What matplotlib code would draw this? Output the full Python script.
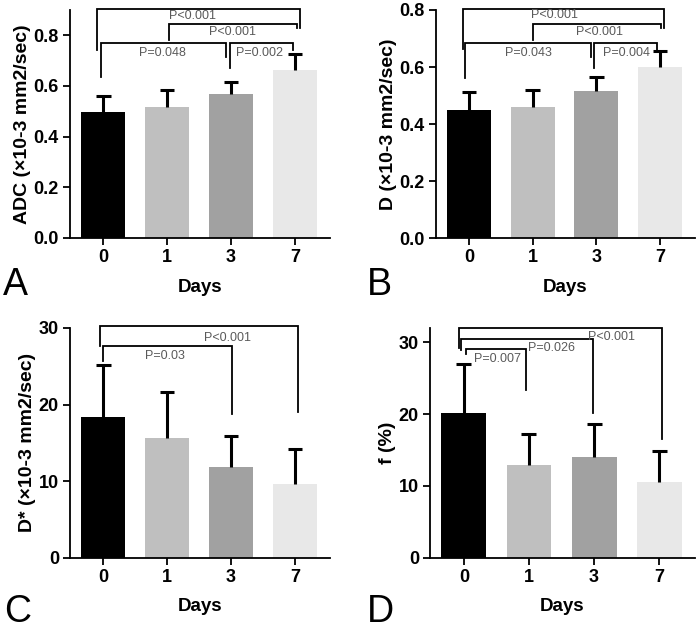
import matplotlib
matplotlib.use("Agg")
import matplotlib.pyplot as plt

plt.rcParams['font.family'] = ['Liberation Sans', 'DejaVu Sans']

days = ["0", "1", "3", "7"]
bar_colors = ["#000000", "#bfbfbf", "#a1a1a1", "#e8e8e8"]

# means and SD
adc_mean = [0.498, 0.518, 0.567, 0.662]
adc_sd = [0.064, 0.065, 0.050, 0.063]
d_mean = [0.450, 0.460, 0.517, 0.602]
d_sd = [0.061, 0.060, 0.047, 0.056]
dstar_mean = [18.4, 15.6, 11.9, 9.6]
dstar_sd = [6.8, 6.0, 4.0, 4.6]
f_mean = [20.2, 12.9, 14.0, 10.6]
f_sd = [6.8, 4.4, 4.6, 4.2]

# brackets: x left, x right, y bar, y left end, y right end, label, label x, label y
adc_brackets = [
    (-0.09, 3.08, 0.905, 0.742, 0.828, "P<0.001", 1.39, 0.877),
    (1.03, 3.03, 0.843, 0.781, 0.828, "P<0.001", 2.03, 0.813),
    (-0.03, 1.92, 0.768, 0.635, 0.714, "P=0.048", 0.93, 0.730),
    (1.98, 2.97, 0.768, 0.671, 0.742, "P=0.002", 2.45, 0.730),
]
d_brackets = [
    (-0.09, 3.06, 0.802, 0.663, 0.737, "P<0.001", 1.35, 0.781),
    (1.00, 3.02, 0.751, 0.696, 0.737, "P<0.001", 2.05, 0.723),
    (-0.07, 1.91, 0.684, 0.563, 0.637, "P=0.043", 0.93, 0.649),
    (1.96, 2.95, 0.684, 0.597, 0.661, "P=0.004", 2.47, 0.649),
]
dstar_brackets = [
    (-0.05, 3.05, 30.2, 27.6, 19.0, "P<0.001", 1.94, 28.7),
    (0.0, 2.01, 27.6, 25.7, 18.8, "P=0.03", 0.97, 26.3),
]
f_brackets = [
    (-0.07, 3.05, 32.0, 29.2, 16.5, "P<0.001", 2.26, 30.7),
    (-0.04, 1.98, 30.4, 29.0, 20.1, "P=0.026", 1.34, 29.2),
    (0.03, 0.96, 29.1, 28.4, 23.3, "P=0.007", 0.52, 27.7),
]

W, H = 697, 631
fig = plt.figure(figsize=(W / 100, H / 100), dpi=100)


def px_axes(left, right, top, bottom):
    return fig.add_axes([left / W, 1 - bottom / H, (right - left) / W, (bottom - top) / H])


panels = [
    (px_axes(70, 330, 10, 238), adc_mean, adc_sd, adc_brackets, "ADC (×10-3 mm2/sec)",
     (0, 0.9), [0.0, 0.2, 0.4, 0.6, 0.8], "{:.1f}", "A", (3, 295)),
    (px_axes(436, 695, 10, 238.3), d_mean, d_sd, d_brackets, "D (×10-3 mm2/sec)",
     (0, 0.8), [0.0, 0.2, 0.4, 0.6, 0.8], "{:.1f}", "B", (367, 295)),
    (px_axes(70, 330, 328, 557.7), dstar_mean, dstar_sd, dstar_brackets, "D* (×10-3 mm2/sec)",
     (0, 30), [0, 10, 20, 30], "{:.0f}", "C", (4, 622)),
    (px_axes(430, 695, 328, 557.7), f_mean, f_sd, f_brackets, "f (%)",
     (0, 32), [0, 10, 20, 30], "{:.0f}", "D", (367, 622)),
]

for ax, mean, sd, brackets, ylabel, ylim, yticks, fmt, letter, lpos in panels:
    x = list(range(len(days)))
    ax.bar(x, mean, width=0.69, color=bar_colors, zorder=2)
    tops = [m + s for m, s in zip(mean, sd)]
    # upper error bars only, no cap at the bar top
    ax.vlines(x, mean, tops, color="black", lw=2.2, zorder=3)
    ax.hlines(tops, [i - 0.115 for i in x], [i + 0.115 for i in x],
              color="black", lw=2.2, zorder=3)
    ax.set_xlim(-0.52, 3.55)
    ax.set_ylim(*ylim)
    ax.set_xticks(x)
    ax.set_xticklabels(days)
    ax.set_yticks(yticks)
    ax.set_yticklabels([fmt.format(v) for v in yticks])
    for lab in ax.get_xticklabels() + ax.get_yticklabels():
        lab.set_fontweight("bold")
        lab.set_fontsize(13)
    ax.tick_params(width=1.3, length=5, pad=3)
    ax.spines["top"].set_visible(False)
    ax.spines["right"].set_visible(False)
    for s in ("left", "bottom"):
        ax.spines[s].set_linewidth(1.3)
    ax.set_xlabel("Days", fontsize=13.5, fontweight="bold", labelpad=9)
    ax.set_ylabel(ylabel, fontsize=14, fontweight="bold", labelpad=2)

    for x1, x2, yb, yl, yr, txt, tx, ty in brackets:
        ax.plot([x1, x1, x2, x2], [yl, yb, yb, yr], color="black", lw=1.3,
                clip_on=False, zorder=3, solid_joinstyle="miter")
        ax.text(tx, ty, txt, ha="center", va="center", fontsize=9,
                color="#5a5a5a", zorder=4)

    fig.text(lpos[0] / W, 1 - lpos[1] / H, letter, fontsize=27, ha="left", va="baseline")

fig.savefig("out.png", dpi=100)
